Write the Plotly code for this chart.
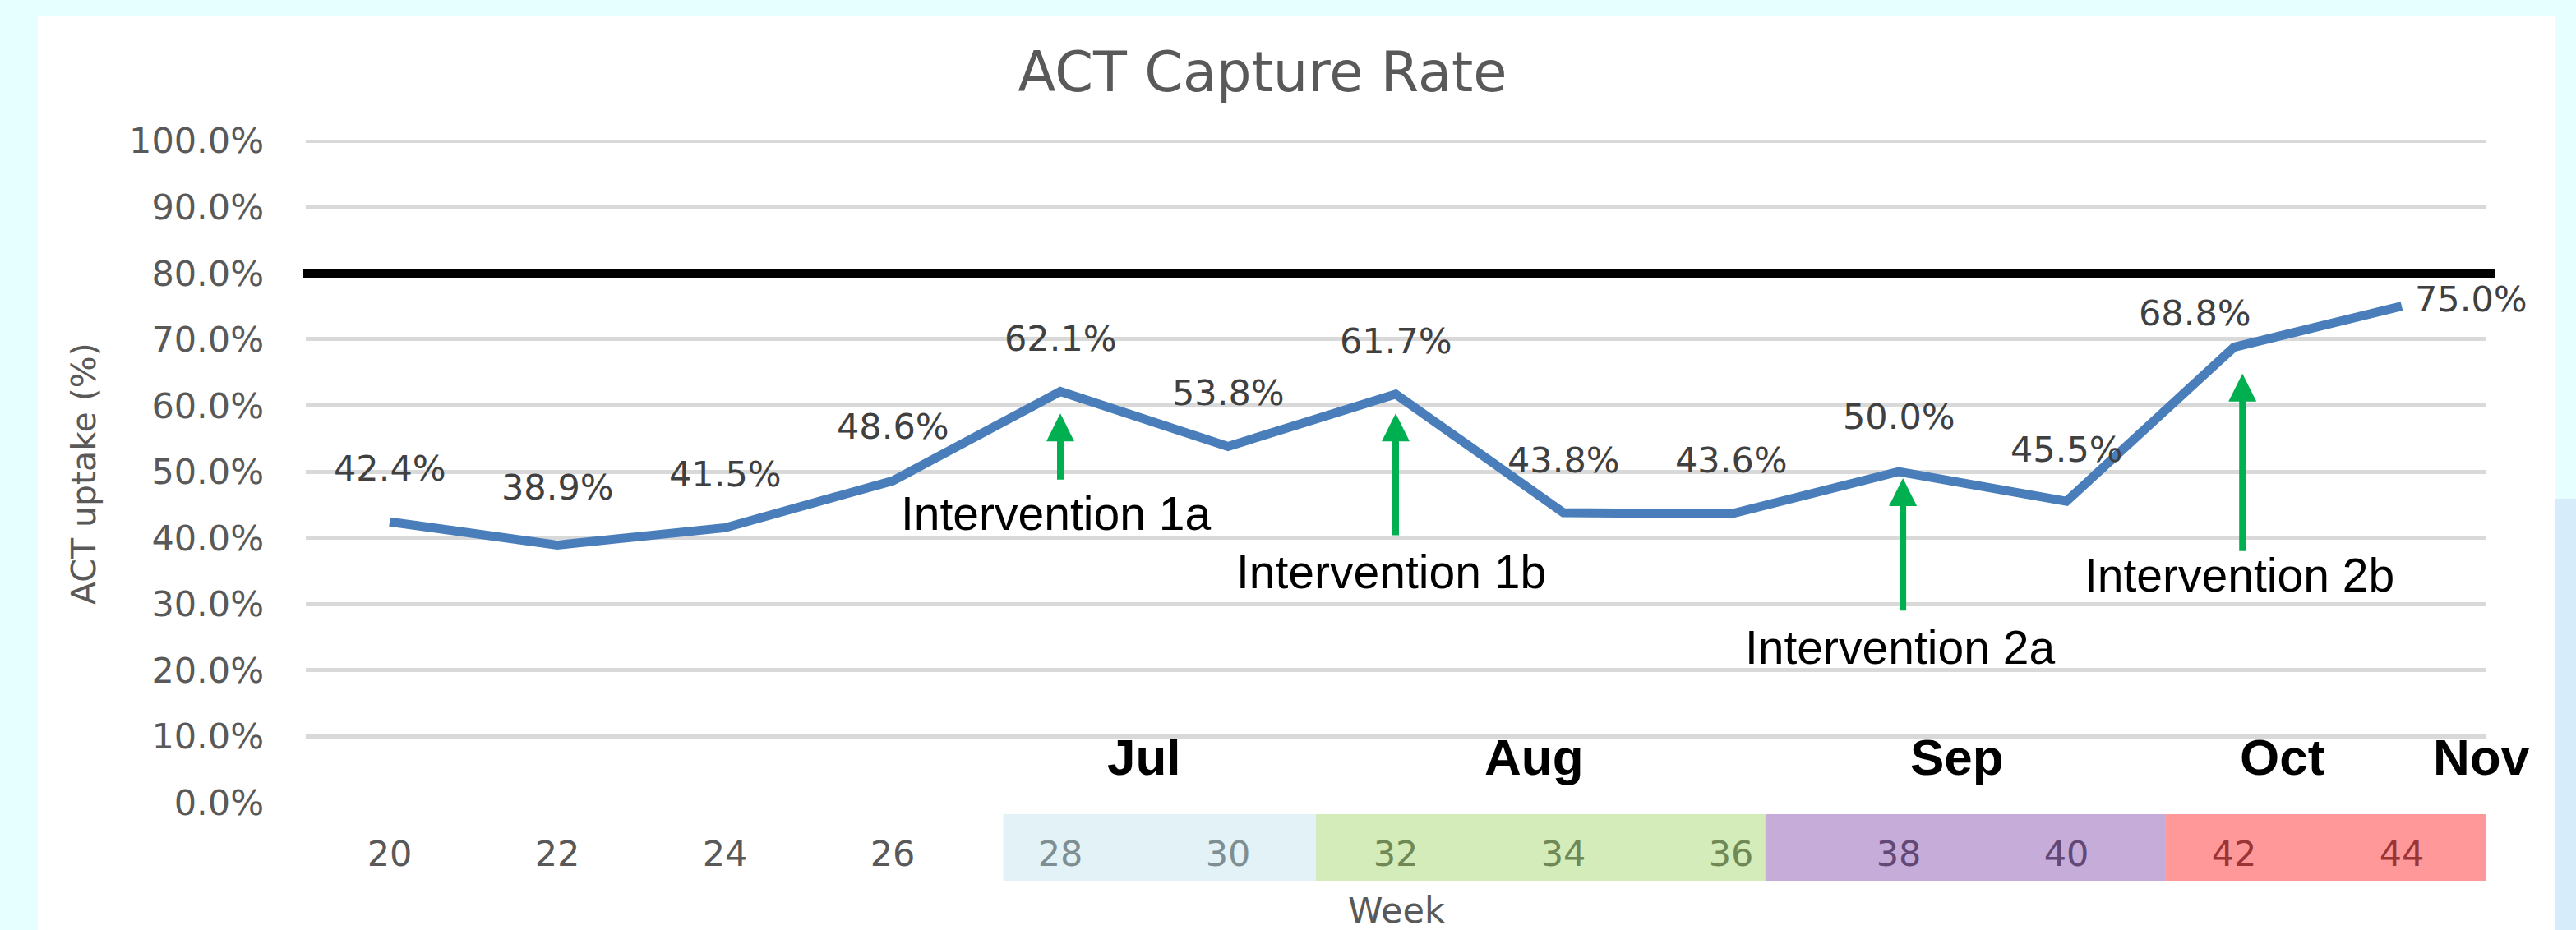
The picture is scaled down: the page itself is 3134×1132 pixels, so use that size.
import plotly.graph_objects as go

# ---- data ----
weeks = [20, 22, 24, 26, 28, 30, 32, 34, 36, 38, 40, 42, 44]
uptake = [42.4, 38.9, 41.5, 48.6, 62.1, 53.8, 61.7, 43.8, 43.6, 50.0, 45.5, 68.8, 75.0]
target = 80.0
y_ticks = [0, 10, 20, 30, 40, 50, 60, 70, 80, 90, 100]
y_ticklabels = [f"{v:.1f}%" for v in y_ticks]

months = ["Jul", "Aug", "Sep", "Oct", "Nov"]
month_week = [29.0, 33.65, 38.7, 42.57, 44.95]

interventions = ["Intervention 1a", "Intervention 1b", "Intervention 2a", "Intervention 2b"]
interv_week = [28, 32, 38.05, 42.1]
interv_tip = [58.8, 58.8, 49.0, 64.8]
interv_tail = [48.6, 40.2, 28.8, 37.8]
interv_text_week = [27.95, 31.95, 38.01, 42.06]
interv_text_y = [43.7, 34.9, 23.4, 34.4]

# week period bands (start, end in week units) and colours
band_start = [27.32, 31.05, 36.41, 41.18]
band_end = [31.05, 36.41, 41.18, 45.0]
band_color = ["rgba(183,222,232,0.4)", "rgba(146,208,80,0.4)",
              "rgba(112,48,160,0.4)", "rgba(255,0,0,0.4)"]

# ---- styling ----
label_xshift = [0, 0, 0, 0, 0, 0, 0, 0, 0, 0, 0, -48, 84]
label_yshift = [65, 70, 65, 66, 65, 65, 65, 64, 66, 67, 63, 42, 9]

W, H = 3134, 1132
ML, MR, MT, MB = 372, 110, 171, 155
PW, PH = W - ML - MR, H - MT - MB

def px_x(px):
    return (px - ML) / PW

def px_y(py):
    return (H - MB - py) / PH

fig = go.Figure()
fig.add_trace(go.Scatter(
    x=weeks, y=uptake, mode="lines",
    line=dict(color="#4a7ebb", width=11),
    hoverinfo="skip", showlegend=False))

shapes = []
# white panel
shapes.append(dict(type="rect", xref="paper", yref="paper", layer="below",
                   x0=px_x(46), x1=px_x(3109), y0=px_y(1140), y1=px_y(20),
                   fillcolor="white", line=dict(width=0)))
shapes.append(dict(type="rect", xref="paper", yref="paper", layer="below",
                   x0=px_x(3109), x1=px_x(3140), y0=px_y(1140), y1=px_y(607),
                   fillcolor="#d6ecfa", line=dict(width=0)))
# top gridline (100%)
shapes.append(dict(type="line", xref="paper", yref="y", layer="below",
                   x0=0, x1=1, y0=y_ticks[-1], y1=y_ticks[-1],
                   line=dict(color="#d9d9d9", width=5)))
# target line
shapes.append(dict(type="line", xref="paper", yref="y", layer="above",
                   x0=px_x(369), x1=px_x(3035), y0=target, y1=target,
                   line=dict(color="black", width=11)))
# period bands over week labels
for s, e, c in zip(band_start, band_end, band_color):
    shapes.append(dict(type="rect", xref="x", yref="paper", layer="above",
                       x0=s, x1=e, y0=px_y(1072), y1=px_y(991),
                       fillcolor=c, line=dict(width=0)))

annotations = []
for w, v, dx, dy in zip(weeks, uptake, label_xshift, label_yshift):
    annotations.append(dict(x=w, y=v, xref="x", yref="y", text=f"{v:.1f}%",
                            showarrow=False, xshift=dx, yshift=dy,
                            font=dict(family="DejaVu Sans", size=43, color="#404040")))
for m, mw in zip(months, month_week):
    annotations.append(dict(x=mw, y=6.8, xref="x", yref="y", text=f"<b>{m}</b>",
                            showarrow=False,
                            font=dict(family="Liberation Sans", size=62, color="black")))
for t, xw, tip, tail, tx, ty in zip(interventions, interv_week, interv_tip, interv_tail,
                                    interv_text_week, interv_text_y):
    annotations.append(dict(x=xw, y=tip, ax=xw, ay=tail, xref="x", yref="y",
                            axref="x", ayref="y", text="", showarrow=True,
                            arrowhead=2, arrowsize=0.85, arrowwidth=8,
                            arrowcolor="#00b050", standoff=0, startstandoff=0))
    annotations.append(dict(x=tx, y=ty, xref="x", yref="y", text=t, showarrow=False,
                            font=dict(family="Liberation Sans", size=57, color="black")))
# axis titles
annotations.append(dict(x=px_x(102), y=px_y(577), xref="paper", yref="paper",
                        text="ACT uptake (%)", textangle=-90, showarrow=False,
                        xanchor="center", yanchor="middle",
                        font=dict(family="DejaVu Sans", size=41, color="#595959")))
annotations.append(dict(x=px_x(1699), y=px_y(1108), xref="paper", yref="paper",
                        text="Week", showarrow=False, xanchor="center", yanchor="middle",
                        font=dict(family="DejaVu Sans", size=43, color="#595959")))

fig.update_layout(
    width=W, height=H,
    margin=dict(l=ML, r=MR, t=MT, b=MB),
    paper_bgcolor="#e6ffff", plot_bgcolor="white",
    title=dict(text="ACT Capture Rate", x=1536 / W, xanchor="center",
               y=1 - 88 / H, yanchor="middle",
               font=dict(family="DejaVu Sans", size=67, color="#595959")),
    showlegend=False,
    shapes=shapes, annotations=annotations,
    xaxis=dict(range=[19, 45], tickmode="array", tickvals=weeks,
               ticktext=[str(w) for w in weeks], showgrid=False, zeroline=False,
               showline=False, ticks="", ticklabelstandoff=33,
               tickfont=dict(family="DejaVu Sans", size=43, color="#595959")),
    yaxis=dict(range=[-0.05, 100.05], tickmode="array", tickvals=y_ticks,
               ticktext=y_ticklabels,
               showgrid=True, gridcolor="#d9d9d9", gridwidth=5, zeroline=False,
               showline=False, ticks="", ticklabelstandoff=50,
               tickfont=dict(family="DejaVu Sans", size=43, color="#595959")),
)

fig.write_html(
    "out.html",
    config={"displayModeBar": False},
    post_script="document.body.style.margin='0';document.body.style.background='#e6ffff';",
)
